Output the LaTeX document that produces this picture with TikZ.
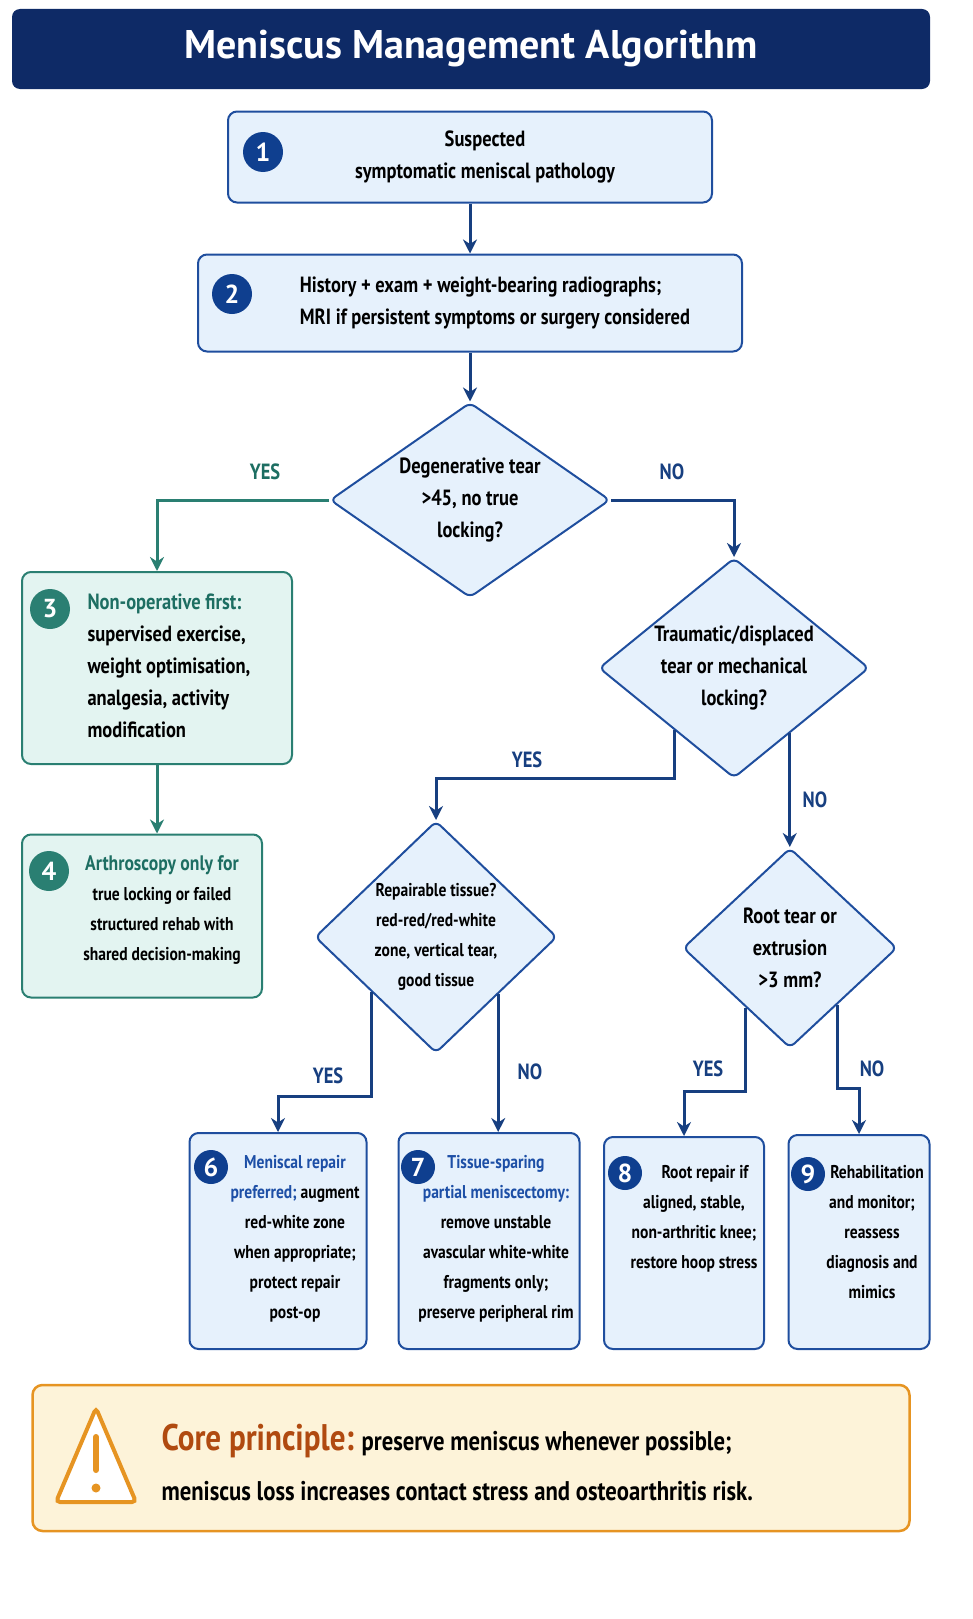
\documentclass[tikz,border=0pt]{standalone}
\usepackage{fontspec}
\setmainfont{PT Sans}[FakeStretch=0.84]
\newfontfamily\titlefont{PT Sans}
\usetikzlibrary{shapes.geometric, calc, arrows.meta}
\definecolor{navy}{HTML}{0E2A66}
\definecolor{boxline}{HTML}{1F4E9E}
\definecolor{boxfill}{HTML}{E6F1FC}
\definecolor{numfill}{HTML}{0F3F8F}
\definecolor{tealline}{HTML}{2A7F72}
\definecolor{tealfill}{HTML}{E3F4F1}
\definecolor{tealtext}{HTML}{1D6E62}
\definecolor{headblue}{HTML}{1D4FA6}
\definecolor{warnline}{HTML}{E69422}
\definecolor{warnfill}{HTML}{FDF3D9}
\definecolor{warntext}{HTML}{B04A10}
\definecolor{arrowblue}{HTML}{173F80}
\tikzset{
  box/.style={draw=boxline, fill=boxfill, line width=2pt, rounded corners=9pt, inner sep=0pt},
  tealbox/.style={box, draw=tealline, fill=tealfill},
  decision/.style={diamond, draw=boxline, fill=boxfill, line width=2pt, rounded corners=6pt, inner sep=0pt},
  num/.style={circle, fill=numfill, text=white, minimum size=40pt, inner sep=0pt, font=\titlefont\bfseries\fontsize{26}{26}\selectfont},
  txt/.style={align=center, font=\bfseries\fontsize{22}{32}\selectfont},
  small/.style={align=center, font=\bfseries\fontsize{18.5}{30}\selectfont},
  flow/.style={draw=arrowblue, line width=3pt, -{Stealth[length=14pt,width=14pt]}},
  tealflow/.style={flow, draw=tealline},
  yn/.style={font=\bfseries\fontsize{22}{22}\selectfont, text=arrowblue},
}
\begin{document}
\begin{tikzpicture}[x=1pt,y=-1pt]
\useasboundingbox (0,0) rectangle (972,1619);
% title bar
\node[fill=navy, rounded corners=8pt, minimum width=918pt, minimum height=80pt, text=white,
  font=\titlefont\bfseries\fontsize{40}{40}\selectfont] (title) at (471,49) {Meniscus Management Algorithm};

% steps 1 and 2
\node[box, minimum width=484pt, minimum height=91pt] (b1) at (470,157) {};
\node[num] (n1) at (263,152) {1};
\node[txt] (t1) at (485,157) {Suspected\\symptomatic meniscal pathology};
\node[box, minimum width=544pt, minimum height=97pt] (b2) at (470,303) {};
\node[num] (n2) at (232,294) {2};
\node[txt, align=left] (t2) at (495,303) {History + exam + weight-bearing radiographs;\\MRI if persistent symptoms or surgery considered};

% decisions
\node[decision, minimum width=280pt, minimum height=195pt] (d1) at (470,500) {};
\node[txt] at (d1) {Degenerative tear\\>45, no true\\locking?};
\node[decision, minimum width=270pt, minimum height=220pt] (d2) at (734,668) {};
\node[txt] at (d2) {Traumatic/displaced\\tear or mechanical\\locking?};
\node[decision, minimum width=242pt, minimum height=232pt] (d3) at (436,937) {};
\node[small] at (d3) {Repairable tissue?\\red-red/red-white\\zone, vertical tear,\\good tissue};
\node[decision, minimum width=214pt, minimum height=200pt] (d4) at (790,948) {};
\node[txt] at (d4) {Root tear or\\extrusion\\>3 mm?};

% non-operative branch
\node[tealbox, minimum width=270pt, minimum height=192pt] (b3) at (157,668) {};
\node[num, fill=tealline] (n3) at (50,609) {3};
\node[txt, align=left, anchor=north west] (t3) at (84,590) {\textcolor{tealtext}{Non-operative first:}\\supervised exercise,\\weight optimisation,\\analgesia, activity\\modification};
\node[tealbox, minimum width=240pt, minimum height=163pt] (b4) at (142,916) {};
\node[num, fill=tealline] (n4) at (49,871) {4};
\node[small, anchor=north] (t4) at (162,852) {\textcolor{tealtext}{\fontsize{21}{30}\selectfont Arthroscopy only for}\\true locking or failed\\structured rehab with\\shared decision-making};

% outcomes
\node[box, minimum width=177pt, minimum height=216pt] (b6) at (278,1241) {};
\node[num, minimum size=34pt] (n6) at (211,1167) {6};
\node[small, anchor=north] (t6) at (295,1152) {\textcolor{headblue}{Meniscal repair}\\\textcolor{headblue}{preferred;} augment\\red-white zone\\when appropriate;\\protect repair\\post-op};
\node[box, minimum width=181pt, minimum height=216pt] (b7) at (489,1241) {};
\node[num, minimum size=34pt] (n7) at (418,1167) {7};
\node[small, anchor=north] (t7) at (496,1152) {\textcolor{headblue}{Tissue-sparing}\\\textcolor{headblue}{partial meniscectomy:}\\remove unstable\\avascular white-white\\fragments only;\\preserve peripheral rim};
\node[box, minimum width=160pt, minimum height=212pt] (b8) at (684,1243) {};
\node[num, minimum size=34pt] (n8) at (625,1173) {8};
\node[small, anchor=north] (t8) at (694,1162) {\hspace*{22pt}Root repair if\\aligned, stable,\\non-arthritic knee;\\restore hoop stress};
\node[box, minimum width=141pt, minimum height=214pt] (b9) at (859,1242) {};
\node[num, minimum size=34pt] (n9) at (808,1174) {9};
\node[small, anchor=north] (t9) at (872,1162) {\hspace*{10pt}Rehabilitation\\and monitor;\\reassess\\diagnosis and\\mimics};

% core principle
\node[draw=warnline, fill=warnfill, line width=2.5pt, rounded corners=10pt, minimum width=877pt, minimum height=146pt] (core) at (471,1458) {};
\draw[warnline, line width=4pt, fill=white, rounded corners=4pt] (96,1408) -- (136,1502) -- (56,1502) -- cycle;
\draw[warnline, line width=6pt, line cap=round] (96,1437) -- (96,1470);
\fill[warnline] (96,1488) circle (4.5pt);
\node[anchor=west, font=\bfseries\fontsize{27}{50}\selectfont, align=left] (tc) at (158,1462)
  {{\color{warntext}\fontsize{37}{37}\selectfont Core principle:} preserve meniscus whenever possible;\\meniscus loss increases contact stress and osteoarthritis risk.};

% connectors
\draw[flow] (b1) -- (b2);
\draw[flow] (b2) -- (d1);
\draw[tealflow] (d1.west) -| (b3.north);
\node[yn, text=tealtext] (y1) at (265,472) {YES};
\draw[flow] (d1.east) -| (d2.north);
\node[yn] (no1) at (672,472) {NO};
\draw[tealflow] (b3.south) -- (b3.south |- b4.north);
\coordinate (d2y) at ($(d2.south)!0.44!(d2.west)$);
\coordinate (d2n) at ($(d2.south)!0.41!(d2.east)$);
\draw[flow] (d2y) -- ++(0,48) -| (d3.north);
\node[yn] (y2) at (527,760) {YES};
\draw[flow] (d2n) -- (d2n |- d4.north);
\node[yn] (no2) at (815,800) {NO};
\coordinate (d3y) at ($(d3.south)!0.53!(d3.west)$);
\coordinate (d3n) at ($(d3.south)!0.51!(d3.east)$);
\draw[flow] (d3y) -- ++(0,104) -| (b6.north);
\node[yn] (y3) at (328,1076) {YES};
\draw[flow] (d3n) -- (d3n |- b7.north);
\node[yn] (no3) at (530,1072) {NO};
\coordinate (d4y) at ($(d4.south)!0.41!(d4.west)$);
\coordinate (d4n) at ($(d4.south)!0.44!(d4.east)$);
\draw[flow] (d4y) -- ++(0,84) -| (b8.north);
\node[yn] (y4) at (708,1069) {YES};
\draw[flow] (d4n) -- ++(0,84) -| (b9.north);
\node[yn] (no4) at (872,1069) {NO};
\end{tikzpicture}
\end{document}
